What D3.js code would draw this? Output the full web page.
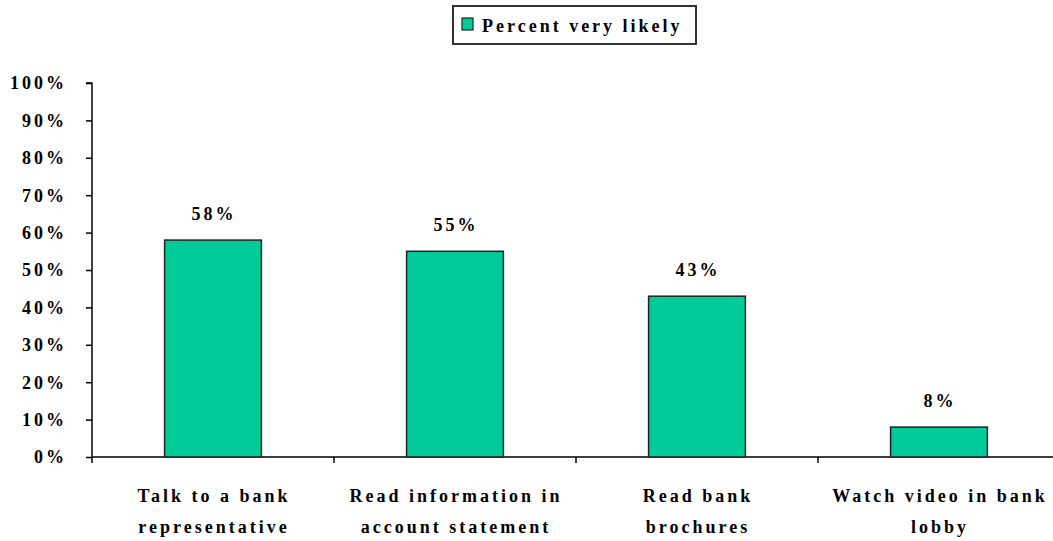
<!DOCTYPE html>
<html><head><meta charset="utf-8">
<script src="https://cdn.jsdelivr.net/npm/d3@7"></script>
<style>
body{margin:0;background:#fff;}
text{font-family:"Liberation Serif","Times New Roman",serif;font-weight:bold;fill:#000;}
</style></head>
<body><svg id="c" width="1053" height="541"></svg>
<script>
const categories = [["Talk to a bank","representative"],["Read information in","account statement"],["Read bank","brochures"],["Watch video in bank","lobby"]];
const values = [58, 55, 43, 8];
const yTicks = [0,10,20,30,40,50,60,70,80,90,100];
const seriesName = "Percent very likely";

const svg = d3.select("#c");
const x0 = 92, x1 = 1060, yBottom = 457, yTop = 83;
const x = d3.scaleBand().domain(d3.range(categories.length)).range([x0, x1]).paddingInner(0).paddingOuter(0);
const y = d3.scaleLinear().domain([0,100]).range([yBottom, yTop]);
const fill = "#00CC99";
const ls = "3px";
const fs = "18px";

// y axis
const yAxis = svg.append("g").attr("transform",`translate(${x0},0)`)
  .call(d3.axisLeft(y).tickValues(yTicks).tickSize(6).tickPadding(19).tickFormat(d=>d+"%"));
yAxis.select(".domain").attr("stroke","#000").attr("stroke-width",1.5).attr("d",`M-6,${yTop}H0V${yBottom}`);
yAxis.selectAll(".tick line").attr("stroke","#000").attr("stroke-width",1.5);
yAxis.selectAll(".tick text").style("font-size",fs).style("letter-spacing",ls).attr("font-family",null).attr("dy","0.33em");

// x axis line
svg.append("line").attr("x1",x0).attr("x2",1053).attr("y1",yBottom).attr("y2",yBottom).attr("stroke","#000").attr("stroke-width",1.5);
const bounds = d3.range(categories.length+1).map(i => i<categories.length ? x(i) : x1);
svg.selectAll(".xt").data(bounds).enter().append("line")
  .attr("x1",d=>d).attr("x2",d=>d).attr("y1",yBottom).attr("y2",yBottom+6).attr("stroke","#000").attr("stroke-width",1.5);

// bars
const bw = x.bandwidth()*0.4;
svg.selectAll(".bar").data(values).enter().append("rect")
  .attr("x",(d,i)=>x(i)+x.bandwidth()/2-bw/2).attr("width",bw)
  .attr("y",d=>y(d)).attr("height",d=>yBottom-y(d))
  .attr("fill",fill).attr("stroke","#222").attr("stroke-width",1.5);

// value labels
svg.selectAll(".vl").data(values).enter().append("text")
  .attr("x",(d,i)=>x(i)+x.bandwidth()/2+1).attr("y",d=>y(d)-20)
  .attr("text-anchor","middle").style("font-size",fs).style("letter-spacing",ls)
  .text(d=>d+"%");

// category labels
categories.forEach((lines,i)=>{
  lines.forEach((t,j)=>{
    svg.append("text").attr("x",x(i)+x.bandwidth()/2+1).attr("y",502+j*31)
      .attr("text-anchor","middle").style("font-size",fs).style("letter-spacing",ls).text(t);
  });
});

// legend
const lg = svg.append("g");
lg.append("rect").attr("x",453).attr("y",6).attr("width",243).attr("height",38).attr("fill","#fff").attr("stroke","#333").attr("stroke-width",2);
lg.append("rect").attr("x",462).attr("y",18).attr("width",11).attr("height",12).attr("fill",fill).attr("stroke","#222").attr("stroke-width",1.2);
lg.append("text").attr("x",482).attr("y",32).style("font-size",fs).style("letter-spacing",ls).text(seriesName);
</script></body></html>
